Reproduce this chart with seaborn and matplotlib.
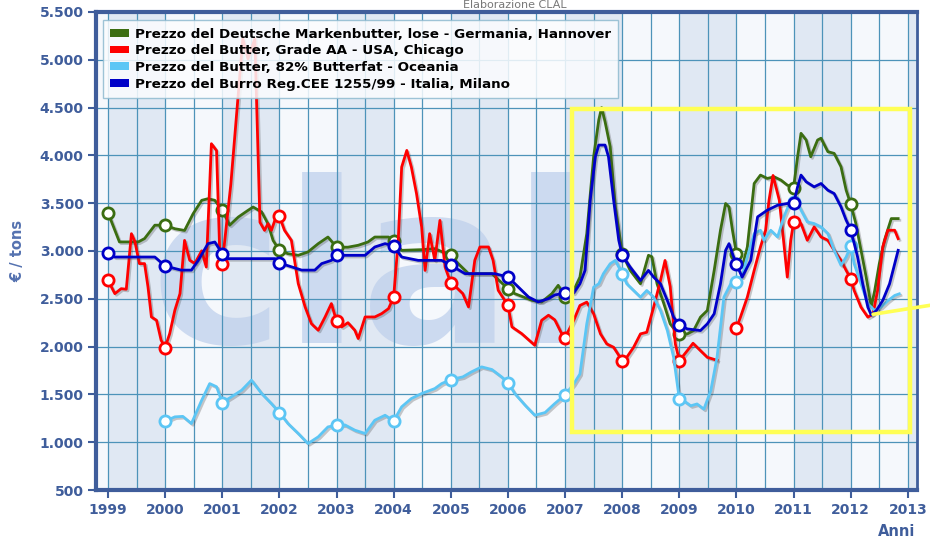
"""
Butter prices 1999-2012: Germany, USA, Oceania, Italy (EUR / ton)
"""

import numpy as np
import pandas as pd
import matplotlib
matplotlib.use("Agg")
import matplotlib.pyplot as plt
import matplotlib.patheffects as pe
from matplotlib.patches import Patch, Rectangle
from matplotlib.ticker import MultipleLocator, FuncFormatter
import seaborn as sns

# Series data: (decimal year, EUR/ton)
de_points = [
    (1999.0, 3400), (1999.20, 3095), (1999.53, 3095), (1999.64, 3130), (1999.82, 3270),
    (2000.0, 3270), (2000.17, 3233), (2000.34, 3215), (2000.49, 3390), (2000.64, 3530),
    (2000.75, 3547), (2000.87, 3530), (2001.0, 3425), (2001.13, 3270), (2001.28, 3355),
    (2001.45, 3425), (2001.54, 3460), (2001.69, 3408), (2001.80, 3285), (2001.89, 3110),
    (2002.0, 3007), (2002.15, 2972), (2002.33, 2955), (2002.50, 2990), (2002.68, 3077),
    (2002.85, 3146), (2003.0, 3040), (2003.20, 3040), (2003.38, 3060), (2003.55, 3094),
    (2003.67, 3146), (2003.91, 3146), (2004.0, 3100), (2004.14, 3007), (2004.49, 3014),
    (2004.72, 3024), (2005.0, 2955), (2005.13, 2868), (2005.31, 2763), (2005.72, 2763),
    (2006.0, 2606), (2006.12, 2554), (2006.42, 2484), (2006.59, 2467), (2006.77, 2554),
    (2006.88, 2641), (2007.0, 2520), (2007.15, 2587), (2007.26, 2727), (2007.38, 3182),
    (2007.50, 3986), (2007.59, 4371), (2007.64, 4500), (2007.70, 4353), (2007.79, 4091),
    (2007.88, 3462), (2008.0, 2972), (2008.14, 2797), (2008.32, 2657), (2008.46, 2955),
    (2008.52, 2940), (2008.61, 2657), (2008.73, 2447), (2008.84, 2238), (2008.93, 2168),
    (2009.0, 2133), (2009.14, 2133), (2009.25, 2168), (2009.37, 2308), (2009.49, 2378),
    (2009.61, 2797), (2009.72, 3217), (2009.81, 3497), (2009.87, 3460), (2009.93, 3217),
    (2010.0, 2972), (2010.10, 2832), (2010.19, 3042), (2010.31, 3706), (2010.42, 3794),
    (2010.54, 3759), (2010.66, 3776), (2010.78, 3741), (2010.89, 3689), (2011.0, 3664),
    (2011.07, 3986), (2011.13, 4231), (2011.22, 4161), (2011.30, 3986), (2011.42, 4161),
    (2011.48, 4180), (2011.60, 4039), (2011.71, 4021), (2011.83, 3881), (2011.92, 3636),
    (2012.0, 3490), (2012.09, 3287), (2012.18, 3007), (2012.27, 2727), (2012.36, 2420),
    (2012.42, 2587), (2012.50, 2867), (2012.59, 3112), (2012.71, 3339), (2012.83, 3339),
]

us_points = [
    (1999.0, 2693), (1999.12, 2554), (1999.23, 2606), (1999.32, 2600), (1999.41, 3181),
    (1999.47, 3100), (1999.55, 2868), (1999.64, 2868), (1999.70, 2624), (1999.76, 2310),
    (1999.85, 2275), (1999.93, 2066), (2000.0, 1990), (2000.08, 2136), (2000.17, 2380),
    (2000.26, 2554), (2000.34, 3111), (2000.43, 2903), (2000.52, 2870), (2000.64, 3002),
    (2000.72, 2832), (2000.81, 4122), (2000.90, 4050), (2000.96, 2903), (2001.0, 2868),
    (2001.15, 3700), (2001.36, 5220), (2001.45, 5010), (2001.57, 5220), (2001.66, 3300),
    (2001.74, 3216), (2001.80, 3286), (2001.86, 3216), (2001.92, 3320), (2002.0, 3362),
    (2002.09, 3216), (2002.21, 3111), (2002.33, 2659), (2002.45, 2415), (2002.56, 2240),
    (2002.68, 2171), (2002.80, 2310), (2002.91, 2450), (2003.0, 2268), (2003.09, 2206),
    (2003.20, 2250), (2003.32, 2171), (2003.38, 2084), (2003.50, 2310), (2003.67, 2310),
    (2003.79, 2345), (2003.91, 2397), (2004.0, 2519), (2004.08, 3111), (2004.14, 3878),
    (2004.23, 4052), (2004.31, 3878), (2004.40, 3600), (2004.49, 3251), (2004.55, 2797),
    (2004.63, 3181), (2004.72, 2903), (2004.81, 3320), (2004.90, 2832), (2005.0, 2665),
    (2005.09, 2624), (2005.21, 2554), (2005.31, 2415), (2005.42, 2903), (2005.51, 3042),
    (2005.66, 3042), (2005.74, 2903), (2005.83, 2589), (2006.0, 2432), (2006.07, 2206),
    (2006.24, 2136), (2006.47, 2014), (2006.59, 2275), (2006.71, 2328), (2006.82, 2280),
    (2006.94, 2136), (2007.0, 2094), (2007.15, 2273), (2007.26, 2430), (2007.38, 2465),
    (2007.50, 2343), (2007.62, 2133), (2007.73, 2028), (2007.85, 1993), (2008.0, 1853),
    (2008.08, 1888), (2008.20, 1993), (2008.32, 2133), (2008.43, 2150), (2008.55, 2412),
    (2008.67, 2692), (2008.75, 2901), (2008.84, 2630), (2008.93, 2028), (2009.0, 1853),
    (2009.14, 1958), (2009.24, 2035), (2009.37, 1958), (2009.49, 1888), (2009.66, 1857),
    (2009.80, np.nan),
    (2010.0, 2196), (2010.07, 2308), (2010.19, 2517), (2010.31, 2797), (2010.42, 3042),
    (2010.51, 3217), (2010.57, 3531), (2010.64, 3790), (2010.75, 3531), (2010.83, 3077),
    (2010.89, 2727), (2010.95, 3112), (2011.0, 3300), (2011.13, 3287), (2011.24, 3112),
    (2011.36, 3252), (2011.48, 3147), (2011.60, 3112), (2011.71, 3007), (2011.83, 2902),
    (2011.92, 2797), (2012.0, 2710), (2012.06, 2587), (2012.18, 2412), (2012.30, 2308),
    (2012.39, 2340), (2012.47, 2587), (2012.56, 3042), (2012.65, 3217), (2012.77, 3217),
    (2012.83, 3129),
]

oc_points = [
    (2000.0, 1220), (2000.17, 1265), (2000.31, 1270), (2000.46, 1195), (2000.64, 1439),
    (2000.78, 1613), (2000.90, 1580), (2001.0, 1415), (2001.16, 1474), (2001.34, 1544),
    (2001.51, 1649), (2001.69, 1509), (2001.86, 1404), (2002.0, 1310), (2002.15, 1195),
    (2002.33, 1091), (2002.50, 986), (2002.68, 1056), (2002.85, 1160), (2003.0, 1178),
    (2003.15, 1180), (2003.32, 1126), (2003.50, 1091), (2003.67, 1230), (2003.85, 1282),
    (2004.0, 1223), (2004.14, 1370), (2004.31, 1457), (2004.49, 1509), (2004.72, 1561),
    (2004.84, 1613), (2005.0, 1655), (2005.21, 1683), (2005.36, 1735), (2005.54, 1788),
    (2005.72, 1760), (2005.89, 1683), (2006.0, 1624), (2006.12, 1509), (2006.30, 1387),
    (2006.47, 1282), (2006.65, 1310), (2006.82, 1404), (2007.0, 1495), (2007.15, 1608),
    (2007.26, 1713), (2007.38, 2238), (2007.50, 2622), (2007.59, 2657), (2007.67, 2762),
    (2007.79, 2867), (2007.88, 2902), (2008.0, 2762), (2008.08, 2657), (2008.20, 2587),
    (2008.32, 2517), (2008.43, 2587), (2008.55, 2517), (2008.67, 2378), (2008.79, 2168),
    (2008.90, 1888), (2009.0, 1451), (2009.08, 1433), (2009.20, 1381), (2009.31, 1400),
    (2009.43, 1346), (2009.55, 1538), (2009.66, 1888), (2009.78, 2517), (2009.90, 2657),
    (2010.0, 2675), (2010.10, 2745), (2010.19, 2937), (2010.31, 3182), (2010.42, 3217),
    (2010.48, 3112), (2010.60, 3217), (2010.72, 3147), (2010.83, 3357), (2010.95, 3531),
    (2011.0, 3510), (2011.07, 3497), (2011.13, 3427), (2011.24, 3304), (2011.36, 3287),
    (2011.48, 3252), (2011.60, 3182), (2011.71, 3007), (2011.83, 2850), (2011.92, 2937),
    (2012.0, 3049), (2012.06, 2867), (2012.18, 2657), (2012.30, 2447), (2012.42, 2378),
    (2012.53, 2413), (2012.65, 2480), (2012.77, 2535), (2012.85, 2552),
]

it_points = [
    (1999.0, 2983), (1999.12, 2937), (1999.82, 2937), (2000.0, 2843), (2000.28, 2800),
    (2000.46, 2800), (2000.58, 2902), (2000.75, 3077), (2000.87, 3094), (2001.0, 2972),
    (2001.10, 2920), (2001.92, 2920), (2002.0, 2875), (2002.39, 2800), (2002.62, 2800),
    (2002.74, 2868), (2002.91, 2902), (2003.0, 2955), (2003.50, 2955), (2003.67, 3042),
    (2003.85, 3077), (2004.0, 3052), (2004.14, 2937), (2004.43, 2902), (2004.84, 2902),
    (2005.0, 2850), (2005.25, 2763), (2005.77, 2763), (2006.0, 2728), (2006.18, 2624),
    (2006.36, 2519), (2006.53, 2467), (2006.71, 2502), (2006.82, 2540), (2007.0, 2561),
    (2007.15, 2560), (2007.26, 2657), (2007.35, 2797), (2007.44, 3531), (2007.53, 3986),
    (2007.59, 4108), (2007.70, 4108), (2007.76, 3986), (2007.85, 3531), (2007.94, 3112),
    (2008.0, 2955), (2008.14, 2832), (2008.32, 2692), (2008.46, 2797), (2008.55, 2727),
    (2008.67, 2657), (2008.79, 2482), (2008.90, 2308), (2009.0, 2227), (2009.14, 2185),
    (2009.37, 2168), (2009.49, 2238), (2009.61, 2343), (2009.72, 2657), (2009.81, 3007),
    (2009.87, 3077), (2009.93, 2972), (2010.0, 2860), (2010.10, 2727), (2010.25, 2902),
    (2010.37, 3357), (2010.54, 3427), (2010.72, 3479), (2010.89, 3497), (2011.0, 3497),
    (2011.07, 3671), (2011.13, 3794), (2011.22, 3724), (2011.36, 3671), (2011.48, 3706),
    (2011.60, 3636), (2011.71, 3601), (2011.83, 3462), (2011.92, 3322), (2012.0, 3224),
    (2012.12, 2937), (2012.21, 2657), (2012.30, 2412), (2012.36, 2330), (2012.45, 2378),
    (2012.56, 2482), (2012.68, 2657), (2012.83, 3007),
]

LABELS = [
    "Prezzo del Deutsche Markenbutter, lose - Germania, Hannover",
    "Prezzo del Butter, Grade AA - USA, Chicago",
    "Prezzo del Butter, 82% Butterfat - Oceania",
    "Prezzo del Burro Reg.CEE 1255/99 - Italia, Milano",
]
COLORS = ["#3b6d11", "#ff0000", "#5cc6f5", "#0000c8"]
SERIES = [de_points, us_points, oc_points, it_points]
ZORDERS = [3, 3.3, 3.6, 3.9]

YEARS = list(range(1999, 2014))
Y_TICKS = list(range(500, 5501, 500))

AXIS_BLUE = "#3f5d9b"
GRID_BLUE = "#4d93b9"


def to_frame(points):
    df = pd.DataFrame(points, columns=["anno", "prezzo"])
    # separate segments where the source has no data
    df["seg"] = df["prezzo"].isna().cumsum()
    return df.dropna()


fig = plt.figure(figsize=(9.3, 5.39), dpi=100)
ax = fig.add_axes([96 / 930, 49 / 539, 821 / 930, 478 / 539])
ax.set_facecolor("#f5f8fc")

# alternate year bands
for yr in YEARS[:-1]:
    if yr % 2 == 1:
        ax.axvspan(yr, yr + 1, color="#e0e8f3", lw=0, zorder=0.2)
ax.axvspan(2013, 2014, color="#e0e8f3", lw=0, zorder=0.2)

# faint logo in the background
ax.text(1999.75, 2035, "clal", fontsize=162, fontweight="bold", color="#bfd0ec",
        alpha=0.75, ha="left", va="baseline", zorder=0.8)

shadow = [pe.SimpleLineShadow(offset=(1.2, -1.2), shadow_color="#404040", alpha=0.28),
          pe.Normal()]

for pts, color, z in zip(SERIES, COLORS, ZORDERS):
    df = to_frame(pts)
    sns.lineplot(data=df, x="anno", y="prezzo", units="seg", estimator=None,
                 color=color, lw=2.0, ax=ax, zorder=z, path_effects=shadow,
                 legend=False)
    marks = df[np.isclose(df["anno"], np.round(df["anno"]))]
    sns.scatterplot(data=marks, x="anno", y="prezzo", s=65, marker="o",
                    facecolor="white", edgecolor=color, linewidth=2.0, ax=ax,
                    zorder=z + 0.1, legend=False)

ax.set_xlim(1998.79, 2013.16)
ax.set_ylim(500, 5500)

ax.set_xticks(YEARS)
ax.set_xticklabels([str(y) for y in YEARS])
ax.xaxis.set_minor_locator(MultipleLocator(0.5))
ax.set_yticks(Y_TICKS)
ax.yaxis.set_major_formatter(FuncFormatter(lambda v, p: f"{int(v):,}".replace(",", ".")))

ax.set_axisbelow("line")
ax.grid(which="major", color=GRID_BLUE, lw=0.9)
ax.grid(which="minor", axis="x", color=GRID_BLUE, lw=0.9)

ax.tick_params(which="major", direction="out", length=6, width=1.5, color=AXIS_BLUE,
               labelcolor=AXIS_BLUE, labelsize=10, pad=3)
ax.tick_params(which="minor", length=0)
for lab in ax.get_xticklabels() + ax.get_yticklabels():
    lab.set_fontweight("bold")

for side, lw in [("left", 3), ("bottom", 3), ("top", 3), ("right", 2)]:
    ax.spines[side].set_color(AXIS_BLUE)
    ax.spines[side].set_linewidth(lw)

ax.set_xlabel("")
ax.set_ylabel("€ / tons", fontsize=10.5, fontweight="bold", color="#5572b0", labelpad=10)
fig.text(897 / 930, 1 - 532 / 539, "Anni", ha="center", va="center", fontsize=10.5,
         fontweight="bold", color=AXIS_BLUE)
fig.text(515 / 930, 1.0, "Elaborazione CLAL", ha="center", va="top", fontsize=8,
         color="#777777")

handles = [Patch(facecolor=c, edgecolor="none") for c in COLORS]
leg = ax.legend(handles, LABELS, loc="upper left", bbox_to_anchor=(0.0085, 0.983),
                prop={"weight": "bold", "size": 9.7}, handlelength=1.4, handleheight=0.5,
                handletextpad=0.4, labelspacing=0.28, borderpad=0.55, borderaxespad=0,
                frameon=True, fancybox=False, framealpha=0.85, facecolor="#fbfcfe",
                edgecolor="#8fbad0")
leg.set_zorder(5)

# yellow highlight box and pointer
ax.add_patch(Rectangle((2007.12, 1106), 5.92, 3384, fill=False, edgecolor="#ffff55",
                       lw=3.2, zorder=6))
ax.plot([2012.39, 2013.39], [2338, 2432], color="#ffff55", lw=2.6, zorder=6,
        clip_on=False, solid_capstyle="round")

fig.savefig("out.png", dpi=100)
